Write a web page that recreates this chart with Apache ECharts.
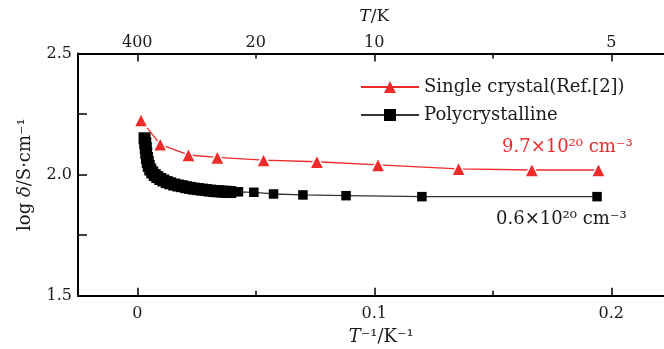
<!DOCTYPE html>
<html>
<head>
<meta charset="utf-8">
<script src="https://cdn.jsdelivr.net/npm/echarts@6/dist/echarts.min.js"></script>
<style>html,body{margin:0;padding:0;background:#fff}#c{width:664px;height:349px}</style>
</head>
<body>
<div id="c"></div>
<script>
// ---- data ----
const singleName = 'Single crystal(Ref.[2])';
const polyName = 'Polycrystalline';
const singleX = [0.0016, 0.0097, 0.0216, 0.0338, 0.0533, 0.0758, 0.1016, 0.1356, 0.1665, 0.1946];
const singleY = [2.225, 2.125, 2.081, 2.071, 2.060, 2.053, 2.040, 2.024, 2.019, 2.019];
const polyX = [0.00308, 0.00338, 0.00359, 0.00380, 0.00409, 0.00443, 0.00485, 0.00549, 0.00633, 0.00738,
  0.00844, 0.00970, 0.01097, 0.01245, 0.01392, 0.01561, 0.01730, 0.01899, 0.02068, 0.02236,
  0.02405, 0.02574, 0.02743, 0.02911, 0.03080, 0.03249, 0.03418, 0.03586, 0.03755, 0.03924,
  0.0427, 0.0492, 0.0575, 0.0699, 0.0881, 0.1201, 0.1940];
const polyY = [2.150, 2.130, 2.110, 2.089, 2.069, 2.052, 2.036, 2.021, 2.009, 1.998,
  1.990, 1.982, 1.976, 1.969, 1.964, 1.959, 1.955, 1.952, 1.948, 1.945,
  1.942, 1.940, 1.938, 1.936, 1.934, 1.932, 1.931, 1.930, 1.929, 1.928,
  1.929, 1.927, 1.920, 1.916, 1.913, 1.909, 1.909];
const xMin = -0.025, xMax = 0.225;
const yMin = 1.5, yMax = 2.5, yStep = 0.25;
const bottomMajorTicks = [0, 0.1, 0.2];
const bottomLabels = ['0', '0.1', '0.2'];
const minorTicks = [0.05, 0.15];
const topTickValues = [0, 0.05, 0.1, 0.2];
const topLabels = ['400', '20', '10', '5'];
const yLabelValues = [1.5, 2.0, 2.5];
const yLabels = ['1.5', '2.0', '2.5'];
const noteHigh = '9.7×10²⁰ cm⁻³';
const noteLow = '0.6×10²⁰ cm⁻³';

// ---- chart ----
const FONT = 'DejaVu Serif';
const RED = '#ee2a2b';
const TXT = '#1a1a1a';
function pairs(xs, ys) { return xs.map((x, i) => [x, ys[i]]); }
function lookup(vals, labels) {
  return function (v) {
    for (let i = 0; i < vals.length; i++) if (Math.abs(v - vals[i]) < 1e-9) return labels[i];
    return '';
  };
}
const axisLine = { show: true, onZero: false, lineStyle: { color: '#000', width: 2 } };
const GRID = { left: 78, top: 53.5, width: 592.5, height: 242.2, outerBoundsMode: 'none', containLabel: false };
function nameStyle(size, pad) {
  return { fontFamily: FONT, fontSize: size, color: TXT, padding: pad || 0,
    rich: { i: { fontFamily: FONT, fontSize: size, fontStyle: 'italic', color: TXT } } };
}

const chart = echarts.init(document.getElementById('c'), null, { renderer: 'canvas' });
chart.setOption({
  animation: false,
  backgroundColor: '#fff',
  grid: GRID,
  legend: {
    orient: 'vertical', left: 355, top: 73,
    itemWidth: 58, itemHeight: 15, itemGap: 10,
    itemStyle: { borderWidth: 0 },
    textStyle: { fontFamily: FONT, fontSize: 18, color: TXT },
    data: [singleName, polyName]
  },
  xAxis: [
    {
      type: 'value', position: 'bottom', min: xMin, max: xMax,
      axisLine: axisLine, splitLine: { show: false },
      axisTick: { inside: true, length: 8, lineStyle: { color: '#000', width: 1.5 }, customValues: bottomMajorTicks },
      axisLabel: { customValues: bottomMajorTicks, formatter: lookup(bottomMajorTicks, bottomLabels), margin: 10,
        fontFamily: FONT, fontSize: 16, color: TXT },
      name: '{i|T}⁻¹/K⁻¹', nameLocation: 'middle', nameGap: 33, nameTextStyle: nameStyle(18, [0, 0, 0, 14])
    },
    {
      type: 'value', position: 'top', min: xMin, max: xMax,
      axisLine: axisLine, splitLine: { show: false },
      axisTick: { inside: true, length: 8, lineStyle: { color: '#000', width: 1.5 }, customValues: bottomMajorTicks },
      axisLabel: { customValues: topTickValues, formatter: lookup(topTickValues, topLabels), margin: 3,
        fontFamily: FONT, fontSize: 16, color: TXT },
      name: '{i|T}/K', nameLocation: 'middle', nameGap: 28, nameTextStyle: nameStyle(17)
    },
    {
      type: 'value', position: 'bottom', min: xMin, max: xMax,
      axisLine: { show: false, onZero: false }, splitLine: { show: false }, axisLabel: { show: false },
      axisTick: { inside: true, length: 5, lineStyle: { color: '#000', width: 1.5 }, customValues: minorTicks }
    },
    {
      type: 'value', position: 'top', min: xMin, max: xMax,
      axisLine: { show: false, onZero: false }, splitLine: { show: false }, axisLabel: { show: false },
      axisTick: { inside: true, length: 5, lineStyle: { color: '#000', width: 1.5 }, customValues: minorTicks }
    }
  ],
  yAxis: {
    type: 'value', min: yMin, max: yMax, interval: yStep,
    axisLine: axisLine, splitLine: { show: false },
    axisTick: { inside: true, length: 9, lineStyle: { color: '#000', width: 1.5 } },
    axisLabel: { formatter: lookup(yLabelValues, yLabels), margin: 6, fontFamily: FONT, fontSize: 16, color: TXT },
    name: 'log {i|δ}/S·cm⁻¹', nameLocation: 'middle', nameGap: 44, nameTextStyle: nameStyle(18)
  },
  series: [
    {
      name: polyName, type: 'line', xAxisIndex: 0, data: pairs(polyX, polyY),
      symbol: 'rect', showAllSymbol: true, z: 2,
      // densely measured high-temperature points are drawn slightly larger (thick band in the original)
      symbolSize: function (val) { return val[0] < 0.04 ? 12 : 9.5; },
      itemStyle: { color: '#000' },
      lineStyle: { color: '#333', width: 1.3 }
    },
    {
      name: singleName, type: 'line', xAxisIndex: 0, data: pairs(singleX, singleY),
      symbol: 'triangle', symbolSize: 14, showAllSymbol: true, z: 3,
      itemStyle: { color: RED, borderColor: '#fff', borderWidth: 1.5 },
      lineStyle: { color: RED, width: 1.3 }
    }
  ],
  graphic: [
    { type: 'text', left: 502, top: 138, silent: true,
      style: { text: noteHigh, fill: RED, font: '18px "DejaVu Serif"' } },
    { type: 'text', left: 496, top: 210, silent: true,
      style: { text: noteLow, fill: TXT, font: '18px "DejaVu Serif"' } }
  ]
});
</script>
</body>
</html>
